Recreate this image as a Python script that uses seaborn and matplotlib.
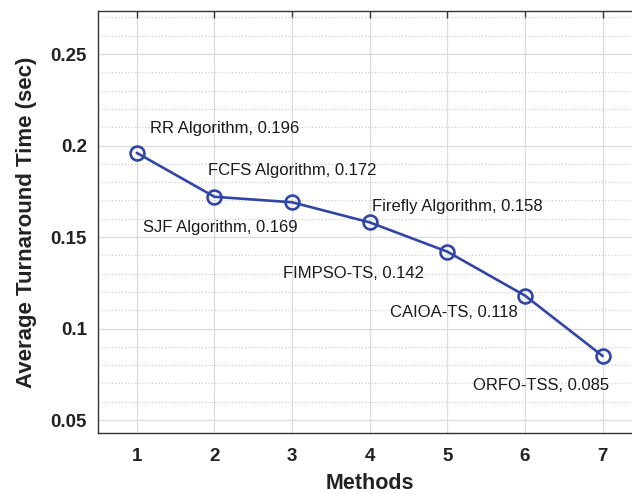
import matplotlib
matplotlib.use("Agg")
import matplotlib.pyplot as plt
from matplotlib.ticker import MultipleLocator
import seaborn as sns
import pandas as pd

methods = [1, 2, 3, 4, 5, 6, 7]
names = ["RR Algorithm", "FCFS Algorithm", "SJF Algorithm", "Firefly Algorithm",
         "FIMPSO-TS", "CAIOA-TS", "ORFO-TSS"]
values = [0.196, 0.172, 0.169, 0.158, 0.142, 0.118, 0.085]

# label offsets in points (layout only)
label_offsets = [(9.4, 17.3), (-4.3, 18.7), (-107.3, -18.4), (1.4, 11.5),
                 (-118.0, -15.8), (-97.2, -12.2), (-93.6, -20.9)]

sns.set_style("white")
plt.rcParams['font.family'] = ['Liberation Sans', 'DejaVu Sans']

df = pd.DataFrame({"Methods": methods, "Value": values})

fig = plt.figure(figsize=(6.32, 4.93), dpi=100)
ax = fig.add_axes([0.155, 0.1223, 0.860, 0.8554])

color = "#3045A8"
sns.lineplot(data=df, x="Methods", y="Value", ax=ax, color=color, linewidth=1.9,
             marker="o", markersize=10, markerfacecolor="none",
             markeredgecolor=color, markeredgewidth=1.9)

ax.set_xlim(0.5, 7.5)
ax.set_ylim(0.0431, 0.2735)
ax.set_xticks(methods)
ax.set_yticks([0.05, 0.1, 0.15, 0.2, 0.25])
ax.set_yticklabels(["0.05", "0.1", "0.15", "0.2", "0.25"])
ax.yaxis.set_minor_locator(MultipleLocator(0.01))

ax.grid(True, which="major", color="#dcdcdc", linewidth=0.9, linestyle="-")
ax.grid(True, which="minor", axis="y", color="#c8c8c8", linewidth=0.8, linestyle=(0, (1, 2)))
ax.set_axisbelow(True)

ax.tick_params(axis="both", which="major", direction="in", length=5, width=1,
               color="#333333", labelsize=13.5, top=True, right=True, pad=8)
ax.tick_params(axis="x", which="major", pad=11)
ax.tick_params(axis="y", which="minor", length=0)
for lab in ax.get_xticklabels() + ax.get_yticklabels():
    lab.set_fontweight("bold")
    lab.set_color("#222222")

for s in ax.spines.values():
    s.set_color("#333333")
    s.set_linewidth(1.0)

ax.set_xlabel("Methods", fontsize=15.5, fontweight="bold", color="#222222", labelpad=6)
ax.set_ylabel("Average Turnaround Time (sec)", fontsize=16, fontweight="bold",
              color="#222222", labelpad=10)

for x, v, n, off in zip(methods, values, names, label_offsets):
    ax.annotate(f"{n}, {v}", xy=(x, v), xytext=off, textcoords="offset points",
                ha="left", va="center", fontsize=12, color="#1a1a1a")

fig.savefig("out.png", dpi=100)
